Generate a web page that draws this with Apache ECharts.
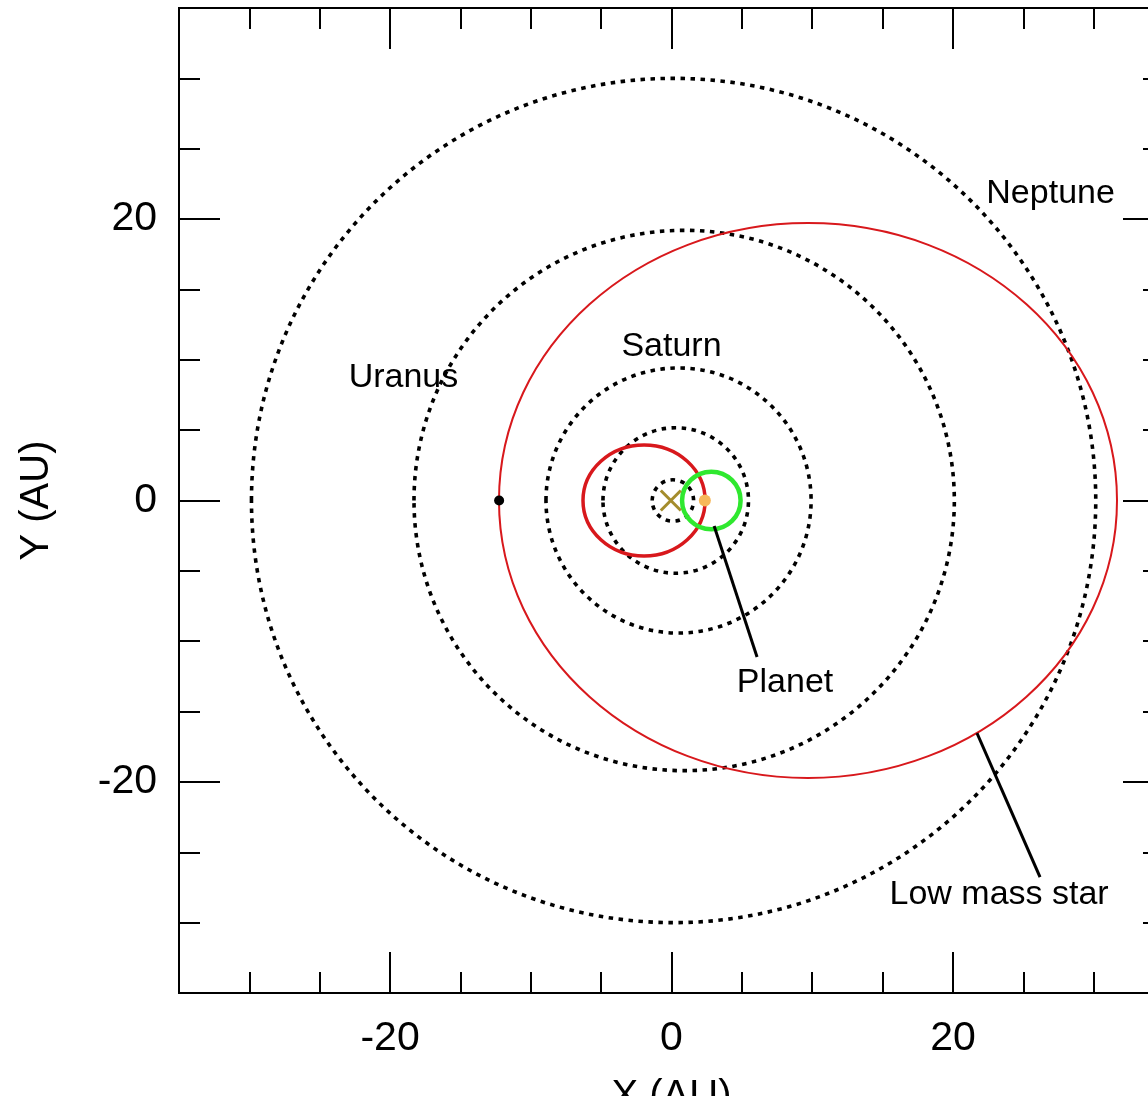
<!DOCTYPE html>
<html>
<head>
<meta charset="utf-8">
<script src="https://cdn.jsdelivr.net/npm/echarts@6/dist/echarts.min.js"></script>
<style>
html,body{margin:0;padding:0;background:#fff;}
#chart{width:1148px;height:1096px;}
</style>
</head>
<body>
<div id="chart"></div>
<script>
// ---- data (AU) ----
// dotted reference orbits (inner, Jupiter, Saturn, Uranus, Neptune)
const planetOrbitCenterX = [0.1, 0.3, 0.5, 0.9, 0.15];
const planetOrbitRadius  = [1.47, 5.17, 9.42, 19.2, 30.0];
// low mass star orbit (big red ellipse)
const starOrbit = {cx: 9.7, cy: 0, a: 21.96, b: 19.72};
// inner red ellipse
const innerRedOrbit = {cx: -1.95, cy: 0, a: 4.34, b: 3.95};
// planet orbit (green)
const planetOrbit = {cx: 2.83, cy: 0, a: 2.08, b: 2.05};
// markers
const starPeriapsis = [-12.25, 0];
const planetPosition = [2.37, 0];
const centerOfMass = [-0.05, 0];
// annotation labels
const labelNames = ['Neptune', 'Saturn', 'Uranus', 'Planet', 'Low mass star'];
const labelX = [26.94, 0.0, -19.05, 8.07, 23.28];
const labelY = [21.78, 10.9, 8.7, -12.97, -28.03];
// pointer lines
const planetPointer = [[3.03, -1.81], [6.08, -11.12]];
const starPointer = [[21.71, -16.53], [26.19, -26.76]];
// axes
const axisMin = -35, axisMax = 35, minorStep = 5;
const majorTicks = [-20, 0, 20];

const FONT = 'Liberation Sans';

function ellipseSeries(items, color, width, dash) {
  return {
    type: 'custom',
    xAxisIndex: 0, yAxisIndex: 0,
    clip: true,
    silent: true,
    data: items,
    renderItem: function (params, api) {
      const c = api.coord([api.value(0), api.value(1)]);
      const s = api.size([api.value(2), api.value(3)]);
      return {
        type: 'ellipse',
        shape: {cx: c[0], cy: c[1], rx: s[0], ry: s[1]},
        style: {fill: 'none', stroke: color, lineWidth: width, lineDash: dash || null}
      };
    }
  };
}

function mkAxis(position, long, showLabel) {
  return {
    type: 'value', gridIndex: 0, position: position,
    min: axisMin, max: axisMax, interval: minorStep,
    axisLine: {show: true, onZero: false, lineStyle: {color: '#000', width: 2}},
    axisTick: long ? {show: true, inside: true, length: 41, customValues: majorTicks, lineStyle: {color: '#000', width: 2}}
                   : {show: true, inside: true, length: 21, lineStyle: {color: '#000', width: 2}},
    axisLabel: showLabel ? {show: true, customValues: majorTicks, color: '#000', fontSize: 41, fontFamily: FONT, margin: 25}
                         : {show: false},
    splitLine: {show: false}
  };
}

const chart = echarts.init(document.getElementById('chart'), null, {renderer: 'canvas'});

const xAxes = [mkAxis('bottom', false, true), mkAxis('bottom', true, false), mkAxis('top', false, false), mkAxis('top', true, false)];
xAxes[0].name = 'X (AU)';
xAxes[0].nameLocation = 'middle';
xAxes[0].nameGap = 84;
xAxes[0].nameTextStyle = {color: '#000', fontSize: 40, fontFamily: FONT};

const yAxes = [mkAxis('left', false, true), mkAxis('left', true, false), mkAxis('right', false, false), mkAxis('right', true, false)];
yAxes[0].axisLabel.margin = 22;
yAxes[0].name = 'Y (AU)';
yAxes[0].nameLocation = 'middle';
yAxes[0].nameRotate = 90;
yAxes[0].nameGap = 122;
yAxes[0].nameTextStyle = {color: '#000', fontSize: 40, fontFamily: FONT};

const dottedItems = planetOrbitCenterX.map((cx, i) => [cx, 0, planetOrbitRadius[i], planetOrbitRadius[i]]);

const option = {
  animation: false,
  backgroundColor: '#fff',
  grid: {left: 179, top: 8, width: 985, height: 985, containLabel: false, outerBoundsMode: 'none'},
  xAxis: xAxes,
  yAxis: yAxes,
  series: [
    ellipseSeries(dottedItems, '#000', 3.6, [4.5, 5.5]),
    ellipseSeries([[starOrbit.cx, starOrbit.cy, starOrbit.a, starOrbit.b]], '#d8181c', 2),
    ellipseSeries([[innerRedOrbit.cx, innerRedOrbit.cy, innerRedOrbit.a, innerRedOrbit.b]], '#d8181c', 3.5),
    ellipseSeries([[planetOrbit.cx, planetOrbit.cy, planetOrbit.a, planetOrbit.b]], '#2fe82f', 4.5),
    {
      type: 'line', xAxisIndex: 0, yAxisIndex: 0, data: planetPointer, symbol: 'none', silent: true,
      lineStyle: {color: '#000', width: 3}
    },
    {
      type: 'line', xAxisIndex: 0, yAxisIndex: 0, data: starPointer, symbol: 'none', silent: true,
      lineStyle: {color: '#000', width: 3}
    },
    {
      type: 'scatter', xAxisIndex: 0, yAxisIndex: 0, data: [starPeriapsis], symbol: 'circle', symbolSize: 10,
      itemStyle: {color: '#000', opacity: 1}, silent: true
    },
    {
      type: 'scatter', xAxisIndex: 0, yAxisIndex: 0, data: [planetPosition], symbol: 'circle', symbolSize: 12,
      itemStyle: {color: '#f6b85a', opacity: 1}, silent: true
    },
    {
      type: 'custom', xAxisIndex: 0, yAxisIndex: 0, data: [centerOfMass], silent: true,
      renderItem: function (params, api) {
        const c = api.coord([api.value(0), api.value(1)]);
        const h = 10;
        const st = {stroke: '#a48c2c', lineWidth: 3};
        return {type: 'group', children: [
          {type: 'line', shape: {x1: c[0] - h, y1: c[1] - h, x2: c[0] + h, y2: c[1] + h}, style: st},
          {type: 'line', shape: {x1: c[0] - h, y1: c[1] + h, x2: c[0] + h, y2: c[1] - h}, style: st}
        ]};
      }
    },
    {
      type: 'custom', xAxisIndex: 0, yAxisIndex: 0, silent: true,
      data: labelNames.map((n, i) => [labelX[i], labelY[i], i]),
      renderItem: function (params, api) {
        const c = api.coord([api.value(0), api.value(1)]);
        return {
          type: 'text', x: c[0], y: c[1],
          style: {text: labelNames[api.value(2)], fill: '#000', fontSize: 34, fontFamily: FONT, align: 'center', verticalAlign: 'middle'}
        };
      }
    }
  ]
};
chart.setOption(option);
</script>
</body>
</html>
